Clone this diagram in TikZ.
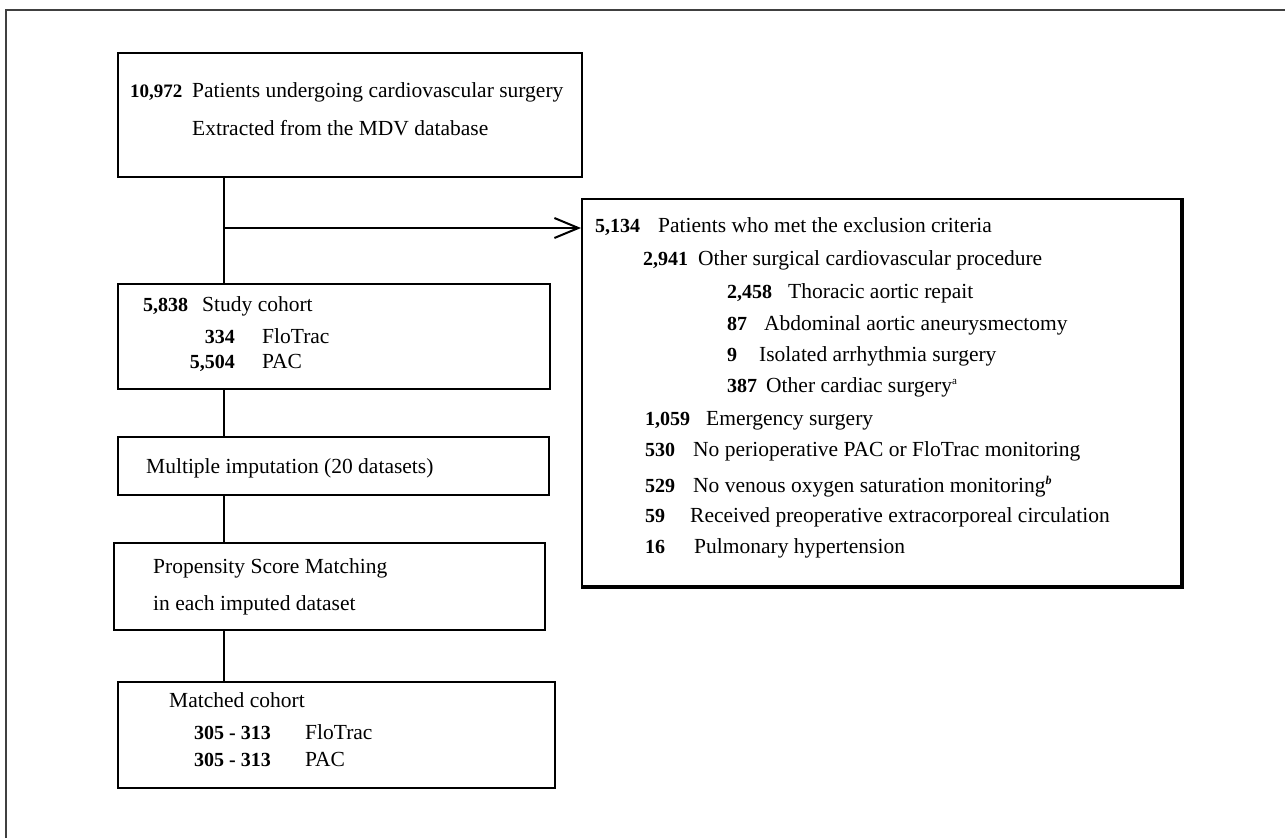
\documentclass[tikz,border=0pt]{standalone}
\usepackage{fontspec}
\setmainfont{Liberation Serif}
\usetikzlibrary{arrows.meta}
\begin{document}
\begin{tikzpicture}[x=1pt,y=-1pt,
  box/.style={draw=black, line width=2pt, rectangle, inner sep=0pt, anchor=north west},
  txt/.style={anchor=base west, inner sep=0pt, font=\fontsize{21.5}{26}\selectfont},
  num/.style={anchor=base west, inner sep=0pt, font=\fontsize{20}{24}\selectfont\bfseries},
  numr/.style={anchor=base east, inner sep=0pt, font=\fontsize{20}{24}\selectfont\bfseries},
  link/.style={line width=2pt, draw=black}]
\useasboundingbox (0,0) rectangle (1285,838);
% outer frame (cropped)
\draw[line width=1.6pt, draw=black!75] (6,838) -- (6,10) -- (1285,10);
% boxes
\node[box, minimum width=464pt, minimum height=124pt] (b1) at (117,52) {};
\node[box, minimum width=432pt, minimum height=105pt] (b2) at (117,283) {};
\node[box, minimum width=599pt, minimum height=387pt] (b3) at (581,198) {};
\node[box, minimum width=431pt, minimum height=58pt] (b4) at (117,436) {};
\node[box, minimum width=431pt, minimum height=87pt] (b5) at (113,542) {};
\node[box, minimum width=437pt, minimum height=106pt] (b6) at (117,681) {};
% slightly heavier right/bottom edge of exclusion box
\draw[line width=1.6pt] ([xshift=1pt]b3.north east) -- ([shift={(1pt,-1pt)}]b3.south east) -- ([yshift=-1pt]b3.south west);
% connectors
\coordinate (tx) at (224,0);
\coordinate (br) at (224,228);
\draw[link] (b1.south -| tx) -- (b2.north -| tx);
\draw[link, -{Straight Barb[length=24pt,width=20pt,line width=2pt]}] (br) -- (b3.west |- br);
\draw[link] (b2.south -| tx) -- (b4.north -| tx);
\draw[link] (b4.south -| tx) -- (b5.north -| tx);
\draw[link] (b5.south -| tx) -- (b6.north -| tx);
% box 1 text
\node[num, font=\fontsize{19}{23}\selectfont\bfseries] (t1a) at (130,97) {10,972};
\node[txt] (t1b) at (192,97) {Patients undergoing cardiovascular surgery};
\node[txt] (t1c) at (192,135) {Extracted from the MDV database};
% box 2 text
\node[num] (t2a) at (143,311) {5,838};
\node[txt] (t2b) at (202,311) {Study cohort};
\node[numr] (t2c) at (235,343) {334};
\node[txt] (t2d) at (262,343) {FloTrac};
\node[numr] (t2e) at (235,368) {5,504};
\node[txt] (t2f) at (262,368) {PAC};
% box 4 text
\node[txt] (t4) at (146,473) {Multiple imputation (20 datasets)};
% box 5 text
\node[txt] (t5a) at (153,573) {Propensity Score Matching};
\node[txt] (t5b) at (153,610) {in each imputed dataset};
% box 6 text
\node[txt] (t6a) at (169,707) {Matched cohort};
\node[num] (t6b) at (194,739) {305 - 313};
\node[txt] (t6c) at (305,739) {FloTrac};
\node[num] (t6d) at (194,766) {305 - 313};
\node[txt] (t6e) at (305,766) {PAC};
% box 3 text
\node[num] (e0n) at (595,232) {5,134};
\node[txt] (e0t) at (658,232) {Patients who met the exclusion criteria};
\node[num] (e1n) at (643,265) {2,941};
\node[txt] (e1t) at (698,265) {Other surgical cardiovascular procedure};
\node[num] (e2n) at (727,298) {2,458};
\node[txt] (e2t) at (788,298) {Thoracic aortic repait};
\node[num] (e3n) at (727,330) {87};
\node[txt] (e3t) at (764,330) {Abdominal aortic aneurysmectomy};
\node[num] (e4n) at (727,361) {9};
\node[txt] (e4t) at (759,361) {Isolated arrhythmia surgery};
\node[num] (e5n) at (727,392) {387};
\node[txt] (e5t) at (766,392) {Other cardiac surgery\textsuperscript{\fontsize{11}{12}\selectfont a}};
\node[num] (e6n) at (645,425) {1,059};
\node[txt] (e6t) at (706,425) {Emergency surgery};
\node[num] (e7n) at (645,456) {530};
\node[txt] (e7t) at (693,456) {No perioperative PAC or FloTrac monitoring};
\node[num] (e8n) at (645,492) {529};
\node[txt] (e8t) at (693,492) {No venous oxygen saturation monitoring\textsuperscript{\fontsize{12}{13}\selectfont\bfseries\itshape b}};
\node[num] (e9n) at (645,522) {59};
\node[txt] (e9t) at (690,522) {Received preoperative extracorporeal circulation};
\node[num] (e10n) at (645,553) {16};
\node[txt] (e10t) at (694,553) {Pulmonary hypertension};
\end{tikzpicture}
\end{document}
